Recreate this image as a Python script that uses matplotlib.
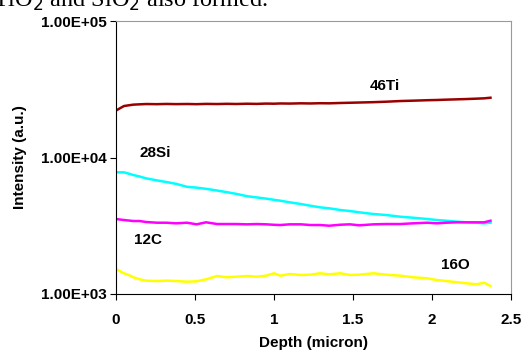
import matplotlib
matplotlib.use('Agg')

import matplotlib.pyplot as plt
from matplotlib.ticker import FixedLocator, NullLocator, FuncFormatter

# depth grid (micron)
depth = [0.00, 0.05, 0.08, 0.11, 0.15, 0.19, 0.26, 0.32, 0.38, 0.45,
         0.51, 0.57, 0.64, 0.70, 0.76, 0.83, 0.89, 0.95, 1.00, 1.04,
         1.10, 1.17, 1.23, 1.29, 1.35, 1.42, 1.48, 1.54, 1.63, 1.71,
         1.80, 1.88, 1.97, 2.03, 2.09, 2.16, 2.22, 2.28, 2.33, 2.37]

ti46 = [22100, 23840, 24130, 24410, 24540, 24660, 24600, 24700, 24620, 24680,
        24600, 24720, 24660, 24750, 24680, 24790, 24720, 24850, 24800, 24900,
        24850, 24960, 24900, 25000, 24960, 25100, 25200, 25300, 25450, 25650,
        25940, 26100, 26300, 26400, 26550, 26700, 26830, 27000, 27150, 27430]

si28 = [7791, 7791, 7622, 7443, 7257, 7040, 6795, 6614, 6416, 6099,
        6018, 5897, 5730, 5578, 5421, 5206, 5102, 4999, 4899, 4825,
        4696, 4563, 4435, 4317, 4244, 4125, 4056, 3967, 3855, 3791,
        3683, 3622, 3544, 3484, 3443, 3386, 3352, 3329, 3295, 3329]

c12 = [3544, 3484, 3455, 3426, 3426, 3369, 3329, 3329, 3295, 3329,
       3240, 3352, 3256, 3256, 3256, 3240, 3256, 3240, 3214, 3202,
       3240, 3240, 3202, 3202, 3165, 3218, 3240, 3186, 3240, 3256,
       3256, 3295, 3329, 3295, 3329, 3352, 3352, 3352, 3352, 3443]

o16 = [1525, 1418, 1378, 1326, 1281, 1252, 1245, 1252, 1245, 1231,
       1239, 1281, 1355, 1326, 1339, 1355, 1339, 1362, 1418, 1362,
       1401, 1378, 1385, 1418, 1394, 1418, 1378, 1385, 1418, 1385,
       1362, 1326, 1303, 1266, 1245, 1218, 1198, 1178, 1210, 1145]

x_ticks = [0, 0.5, 1, 1.5, 2, 2.5]
x_labels = ['0', '0.5', '1', '1.5', '2', '2.5']
y_ticks = [1e3, 1e4, 1e5]

plt.rcParams['font.family'] = ['Liberation Sans', 'DejaVu Sans']

fig = plt.figure(figsize=(5.29, 3.51), dpi=100)
ax = fig.add_axes([0.2193, 0.1624, 0.7467, 0.7776])

lw = 1.8
ax.plot(depth, ti46, color='#990000', lw=lw)
ax.plot(depth, si28, color='#00FFFF', lw=lw)
ax.plot(depth, c12, color='#FF00FF', lw=lw)
ax.plot(depth, o16, color='#FFFF00', lw=lw)

ax.set_yscale('log')
ax.set_xlim(0, 2.5)
ax.set_ylim(1e3, 1e5)
ax.yaxis.set_major_locator(FixedLocator(y_ticks))
ax.yaxis.set_minor_locator(NullLocator())
ax.yaxis.set_major_formatter(FuncFormatter(lambda v, p: f"{v:.2E}"))
ax.set_xticks(x_ticks)
ax.set_xticklabels(x_labels)

fs = 11
ax.tick_params(axis='both', direction='out', length=4, width=0.8,
               labelsize=fs, pad=3)
for lab in ax.get_xticklabels() + ax.get_yticklabels():
    lab.set_fontweight('bold')
ax.tick_params(axis='x', pad=10)

ax.spines['left'].set_color('black')
ax.spines['bottom'].set_color('black')
ax.spines['top'].set_color('#999999')
ax.spines['right'].set_color('#999999')

ax.set_xlabel('Depth (micron)', fontsize=fs, fontweight='bold', labelpad=6)
ax.set_ylabel('Intensity (a.u.)', fontsize=fs, fontweight='bold', labelpad=10)

# series labels
ax.text(1.70, 33400, '46Ti', fontsize=fs, fontweight='bold', ha='center', va='center')
ax.text(0.25, 10800, '28Si', fontsize=fs, fontweight='bold', ha='center', va='center')
ax.text(0.20, 2490, '12C', fontsize=fs, fontweight='bold', ha='center', va='center')
ax.text(2.15, 1630, '16O', fontsize=fs, fontweight='bold', ha='center', va='center')

# cropped caption line from the page above the chart
fig.text(-0.014, 1 - 7 / 351, 'TiO$_2$ and SiO$_2$ also formed.', fontsize=17.5,
         family='Liberation Serif', va='baseline', ha='left')

fig.savefig('out.png', dpi=100)
